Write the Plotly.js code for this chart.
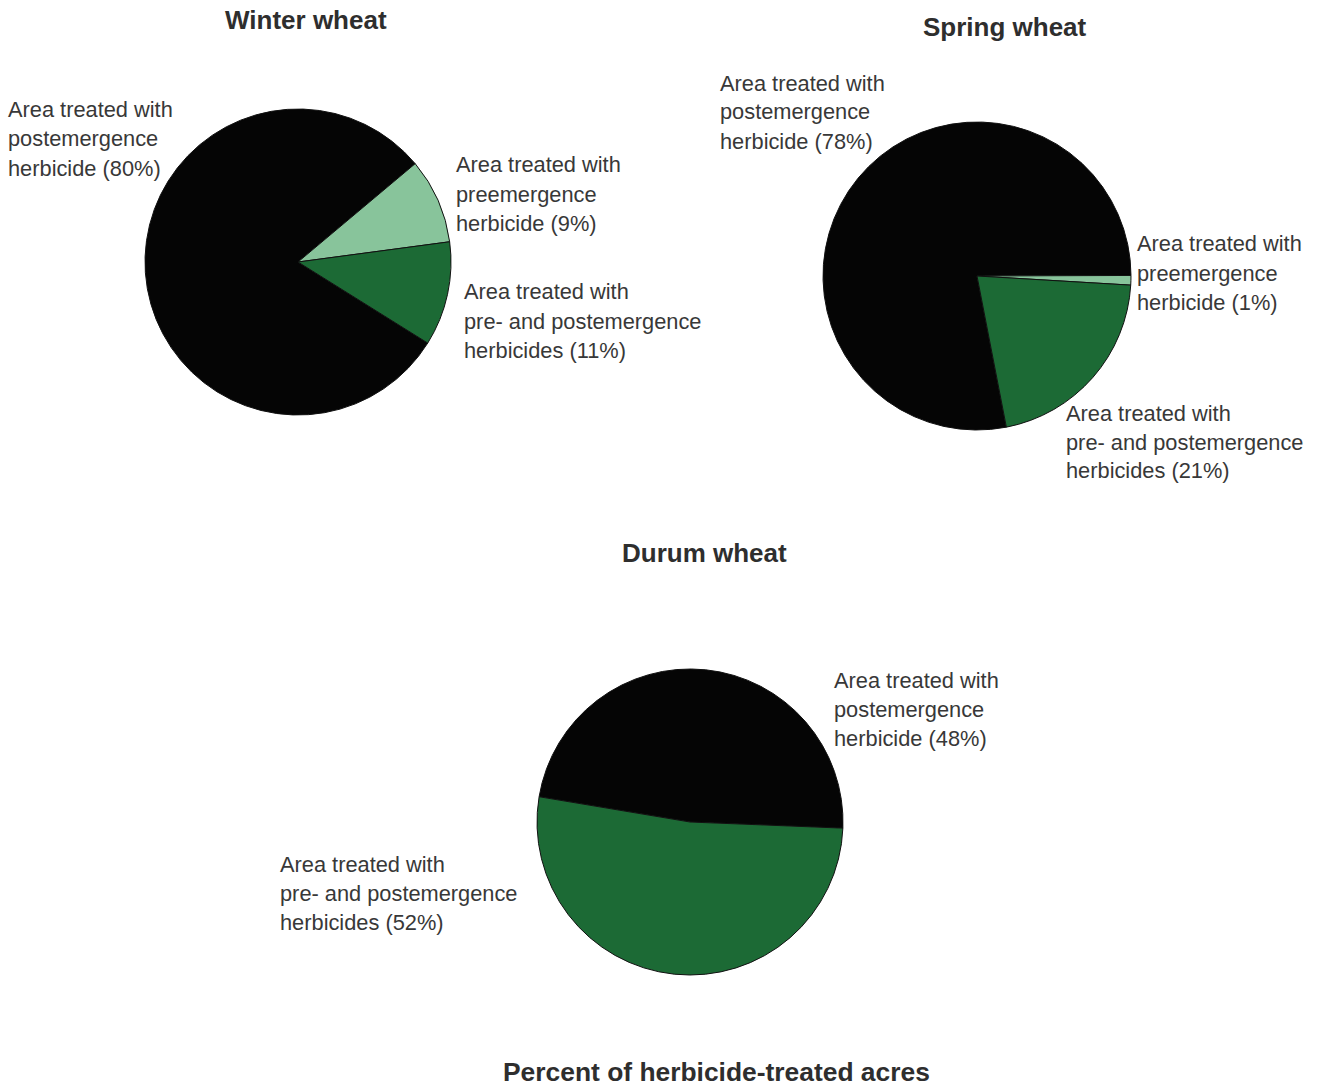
<!DOCTYPE html>
<html>
<head>
<meta charset="utf-8">
<script src="https://cdn.plot.ly/plotly-3.0.1.min.js"></script>
<style>html,body{margin:0;padding:0;background:#fff;}#chart{width:1322px;height:1088px;}</style>
</head>
<body>
<div id="chart"></div>
<script>
// ---- data ----
var chartTitles = ['Winter wheat', 'Spring wheat', 'Durum wheat'];
var footerTitle = 'Percent of herbicide-treated acres';

var winterCategories = ['Area treated with<br>postemergence<br>herbicide',
                        'Area treated with<br>preemergence<br>herbicide',
                        'Area treated with<br>pre- and postemergence<br>herbicides'];
var winterValues = [80, 9, 11];

var springCategories = ['Area treated with<br>postemergence<br>herbicide',
                        'Area treated with<br>preemergence<br>herbicide',
                        'Area treated with<br>pre- and postemergence<br>herbicides'];
var springValues = [78, 1, 21];

var durumCategories = ['Area treated with<br>postemergence<br>herbicide',
                       'Area treated with<br>pre- and postemergence<br>herbicides'];
var durumValues = [48, 52];

// ---- styling / layout ----
var W = 1322, H = 1088;
var BLACK = '#050505', LIGHT = '#88c49b', DARK = '#1c6a35';
var FONT = 'Liberation Sans, Arial, Helvetica, sans-serif';
var TEXT_COLOR = '#383838';

function domainFor(cx, cy, r) {
  return {
    x: [(cx - r) / W, (cx + r) / W],
    y: [1 - (cy + r) / H, 1 - (cy - r) / H]
  };
}

var pies = [
  {cats: winterCategories, vals: winterValues, colors: [BLACK, LIGHT, DARK],
   cx: 298, cy: 262, r: 153, rotation: 122,
   labelPos: [[6, 110], [454, 165], [462, 292]]},
  {cats: springCategories, vals: springValues, colors: [BLACK, LIGHT, DARK],
   cx: 977, cy: 276, r: 154, rotation: 169,
   labelPos: [[718, 83], [1135, 244], [1064, 413]]},
  {cats: durumCategories, vals: durumValues, colors: [BLACK, DARK],
   cx: 690, cy: 822, r: 153, rotation: -80.5,
   labelPos: [[832, 680], [278, 864]]}
];

var traces = [];
var annotations = [];
var LINE_GAP = 29;

pies.forEach(function (p) {
  traces.push({
    type: 'pie',
    labels: p.cats,
    values: p.vals,
    sort: false,
    direction: 'clockwise',
    rotation: p.rotation,
    textinfo: 'none',
    hoverinfo: 'label+percent',
    showlegend: false,
    marker: {colors: p.colors, line: {color: '#111111', width: 1}},
    domain: domainFor(p.cx, p.cy, p.r)
  });
  p.cats.forEach(function (c, i) {
    var lines = (c + ' (' + p.vals[i] + '%)').split('<br>');
    lines.forEach(function (ln, k) {
      var py = p.labelPos[i][1] + k * LINE_GAP;
      annotations.push({
        xref: 'paper', yref: 'paper',
        x: p.labelPos[i][0] / W, y: 1 - py / H,
        xanchor: 'left', yanchor: 'middle',
        text: ln, showarrow: false, align: 'left',
        font: {family: FONT, size: 21.8, color: TEXT_COLOR}
      });
    });
  });
});

var titlePos = [[306, 20], [1005, 27], [704, 553]];
chartTitles.forEach(function (t, i) {
  annotations.push({
    xref: 'paper', yref: 'paper',
    x: titlePos[i][0] / W, y: 1 - titlePos[i][1] / H,
    xanchor: 'center', yanchor: 'middle',
    text: '<b>' + t + '</b>', showarrow: false,
    font: {family: FONT, size: 26, color: '#2e2e2e'}
  });
});
annotations.push({
  xref: 'paper', yref: 'paper',
  x: 716 / W, y: 1 - 1072 / H,
  xanchor: 'center', yanchor: 'middle',
  text: '<b>' + footerTitle + '</b>', showarrow: false,
  font: {family: FONT, size: 26.4, color: '#2e2e2e'}
});

var layout = {
  width: W, height: H,
  margin: {l: 0, r: 0, t: 0, b: 0},
  paper_bgcolor: '#ffffff',
  plot_bgcolor: '#ffffff',
  showlegend: false,
  annotations: annotations,
  font: {family: FONT}
};

Plotly.newPlot('chart', traces, layout, {displayModeBar: false, staticPlot: true});
</script>
</body>
</html>
